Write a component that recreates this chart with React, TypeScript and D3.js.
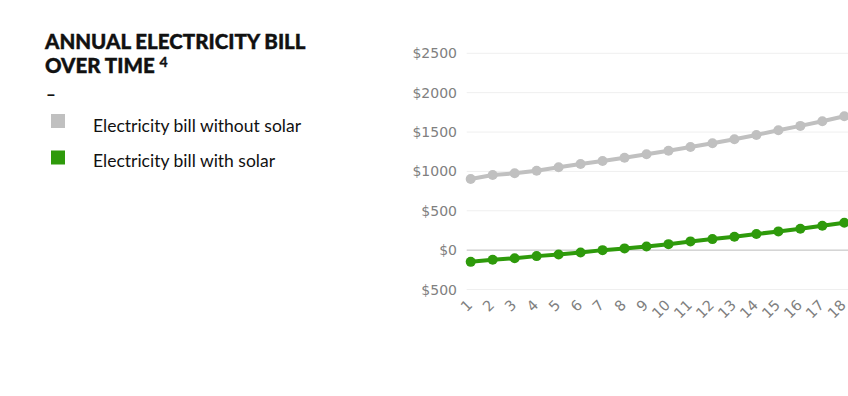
import { useRef, useEffect } from "react";
import * as d3 from "d3";

// years on the x axis
const years = [1, 2, 3, 4, 5, 6, 7, 8, 9, 10, 11, 12, 13, 14, 15, 16, 17, 18];
// bill without solar ($)
const withoutSolar = [903, 954, 976, 1009, 1052, 1094, 1132, 1174, 1218, 1263, 1310, 1357, 1408, 1463, 1523, 1578, 1637, 1701];
// bill with solar ($)
const withSolar = [-149, -123, -102, -76, -55, -29, 0, 22, 47, 76, 111, 140, 169, 204, 238, 271, 309, 347];
// y ticks and their labels
const yTicks = [-500, 0, 500, 1000, 1500, 2000, 2500];
const yTickLabels = ["$500", "$0", "$500", "$1000", "$1500", "$2000", "$2500"];
const legendLabels = ["Electricity bill without solar", "Electricity bill with solar"];

const GREY = "#c0c0c0";
const GREEN = "#2e9a0b";

const App = () => {
  const svgRef = useRef<SVGSVGElement>(null);

  useEffect(() => {
    const svg = d3.select(svgRef.current);
    svg.selectAll("*").remove();

    const width = 848;
    const height = 396;
    svg.attr("width", width).attr("height", height);

    //Titulo
    const title = svg
      .append("text")
      .attr("x", 46)
      .attr("font-family", "Lato")
      .attr("font-weight", 900)
      .attr("font-size", 20.5)
      .attr("fill", "#111")
      .attr("stroke", "#111")
      .attr("stroke-width", 0.4);
    title.append("tspan").attr("x", 45).attr("y", 49).text("ANNUAL ELECTRICITY BILL");
    title.append("tspan").attr("x", 45).attr("y", 73).text("OVER TIME ");
    title
      .append("tspan")
      .attr("dy", -6)
      .attr("font-size", 14)
      .attr("font-weight", 700)
      .text("4");

    svg
      .append("text")
      .attr("x", 46)
      .attr("y", 100)
      .attr("font-family", "Lato")
      .attr("font-weight", 900)
      .attr("font-size", 17)
      .attr("fill", "#111")
      .text("–");

    //Leyenda
    const colors = [GREY, GREEN];
    legendLabels.forEach((lab, i) => {
      svg
        .append("rect")
        .attr("x", 51)
        .attr("y", 114 + i * 36.5)
        .attr("width", 14)
        .attr("height", 14)
        .attr("fill", colors[i]);
      svg
        .append("text")
        .attr("x", 93)
        .attr("y", 132 + i * 35)
        .attr("font-family", "Lato")
        .attr("font-size", 17.5)
        .attr("fill", "#111")
        .text(lab);
    });

    // Escalas
    const xScale = d3.scaleLinear().domain([1, 18]).range([470.7, 844.3]);
    const yScale = d3.scaleLinear().domain([-500, 2500]).range([289.5, 53.3]);

    // Rejilla
    svg
      .append("g")
      .selectAll("line")
      .data(yTicks)
      .enter()
      .append("line")
      .attr("x1", 466.7)
      .attr("x2", width)
      .attr("y1", (d) => yScale(d))
      .attr("y2", (d) => yScale(d))
      .attr("stroke", (d) => (d === 0 ? "#bdbdbd" : "#efefef"))
      .attr("stroke-width", 1);

    svg
      .append("g")
      .selectAll("text")
      .data(yTicks)
      .enter()
      .append("text")
      .attr("x", 457)
      .attr("y", (d) => yScale(d))
      .attr("dy", "0.36em")
      .attr("text-anchor", "end")
      .attr("font-family", "DejaVu Sans")
      .attr("font-size", 14)
      .attr("fill", "#808080")
      .text((d, i) => yTickLabels[i]);

    // Eje X
    svg
      .append("g")
      .selectAll("text")
      .data(years)
      .enter()
      .append("text")
      .attr("transform", (d) => `translate(${xScale(d) - 1},${302.5}) rotate(-45)`)
      .attr("text-anchor", "end")
      .attr("dy", "0.35em")
      .attr("font-family", "DejaVu Sans")
      .attr("font-size", 14.5)
      .attr("fill", "#808080")
      .text((d) => d);

    // Series
    const series = [
      { values: withoutSolar, color: GREY },
      { values: withSolar, color: GREEN },
    ];
    const line = d3
      .line<number>()
      .x((d, i) => xScale(years[i]))
      .y((d) => yScale(d));

    series.forEach((s) => {
      svg
        .append("path")
        .datum(s.values)
        .attr("d", line)
        .attr("fill", "none")
        .attr("stroke", s.color)
        .attr("stroke-width", 4);
      svg
        .append("g")
        .selectAll("circle")
        .data(s.values)
        .enter()
        .append("circle")
        .attr("cx", (d, i) => xScale(years[i]))
        .attr("cy", (d) => yScale(d))
        .attr("r", 5)
        .attr("fill", s.color);
    });
  }, []);

  return (
    <svg
      ref={svgRef}
      style={{ position: "absolute", left: 0, top: 0, display: "block" }}
    ></svg>
  );
};

export default App;
